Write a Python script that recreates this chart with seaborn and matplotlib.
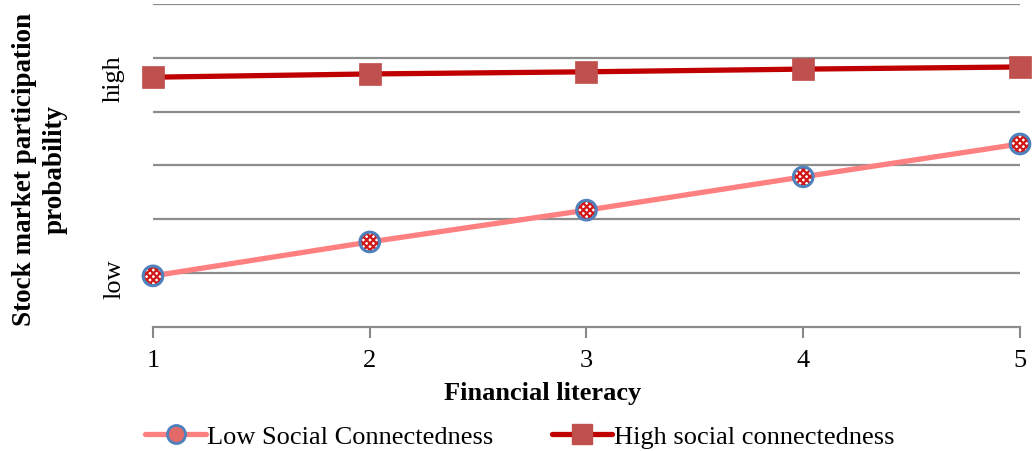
import pandas as pd
import seaborn as sns
import numpy as np
import matplotlib.pyplot as plt
from matplotlib.lines import Line2D

# data (y on an arbitrary 0-6 scale, gridlines at integers)
literacy = [1, 2, 3, 4, 5]
low_conn = [0.95, 1.58, 2.17, 2.79, 3.40]
high_conn = [4.64, 4.70, 4.74, 4.79, 4.83]
series_names = ["Low Social Connectedness", "High social connectedness"]
y_ticks = [0.9, 4.63]
y_tick_labels = ["low", "high"]

df = pd.DataFrame({
    "x": literacy * 2,
    "y": low_conn + high_conn,
    "series": [series_names[0]] * 5 + [series_names[1]] * 5,
})

sns.set_theme(style="white")
plt.rcParams["font.family"] = ["Liberation Serif", "DejaVu Serif"]
plt.rcParams["hatch.linewidth"] = 1.6
plt.rcParams["text.color"] = "black"
plt.rcParams["axes.labelcolor"] = "black"
plt.rcParams["xtick.labelcolor"] = "black"
plt.rcParams["ytick.labelcolor"] = "black"

fig = plt.figure(figsize=(10.33, 4.52), dpi=100)
ax = fig.add_axes([0.1481, 0.2743, 0.8393, 0.7147])

low_line = "#FF8080"
high_line = "#C00000"
sns.lineplot(data=df, x="x", y="y", hue="series",
             palette={series_names[0]: low_line, series_names[1]: high_line},
             linewidth=3.8, legend=False, ax=ax, zorder=3)

# checkered circle markers for the low series
ax.scatter(literacy, low_conn, s=200, facecolor="white", edgecolor="#D01818",
           hatch="xxxxx", linewidth=0, zorder=4, clip_on=False)
ax.scatter(literacy, low_conn, s=200, facecolor="none", edgecolor="#4F81BD",
           linewidth=2.2, zorder=5, clip_on=False)
# square markers for the high series
ax.scatter(literacy, high_conn, s=230, marker="s", color="#C0504D",
           edgecolor="#C0504D", linewidth=0.5, zorder=5, clip_on=False)

ax.set_xlim(1, 5)
ax.set_ylim(0, 6)
ax.set_xticks(literacy)
ax.set_xticklabels([str(v) for v in literacy], fontsize=19)
ax.set_yticks(y_ticks)
ax.set_yticklabels(y_tick_labels, fontsize=19, rotation=90, va="center")
ax.tick_params(axis="y", length=0, pad=20)
ax.tick_params(axis="x", length=8, width=1.5, color="#888888", direction="out",
               bottom=True, pad=8)

for g in range(1, 7):
    ax.axhline(g, color="#8C8C8C", linewidth=1.6, zorder=1)

for side in ["top", "right", "left"]:
    ax.spines[side].set_visible(False)
ax.spines["bottom"].set_color("#8C8C8C")
ax.spines["bottom"].set_linewidth(1.6)

ax.set_xlabel("Financial literacy", fontsize=19, fontweight="bold")
ax.xaxis.set_label_coords(0.449, -0.168)
ax.set_ylabel("Stock market participation\nprobability", fontsize=19.5,
              fontweight="bold", linespacing=1.3)
ax.yaxis.set_label_coords(-0.098, 0.49)

handles = [
    Line2D([], [], color=low_line, linewidth=3.8, marker="o", markersize=13,
           markerfacecolor="#E46A6A", markeredgecolor="#4F81BD", markeredgewidth=2),
    Line2D([], [], color=high_line, linewidth=3.8, marker="s", markersize=14,
           markerfacecolor="#C0504D", markeredgecolor="#C0504D"),
]
fig.legend(handles, series_names, loc="center", bbox_to_anchor=(0.503, 0.033),
           ncol=2, frameon=False, fontsize=19, handlelength=2.3,
           handletextpad=0.05, columnspacing=2.2)

fig.savefig("out.png", dpi=100)
